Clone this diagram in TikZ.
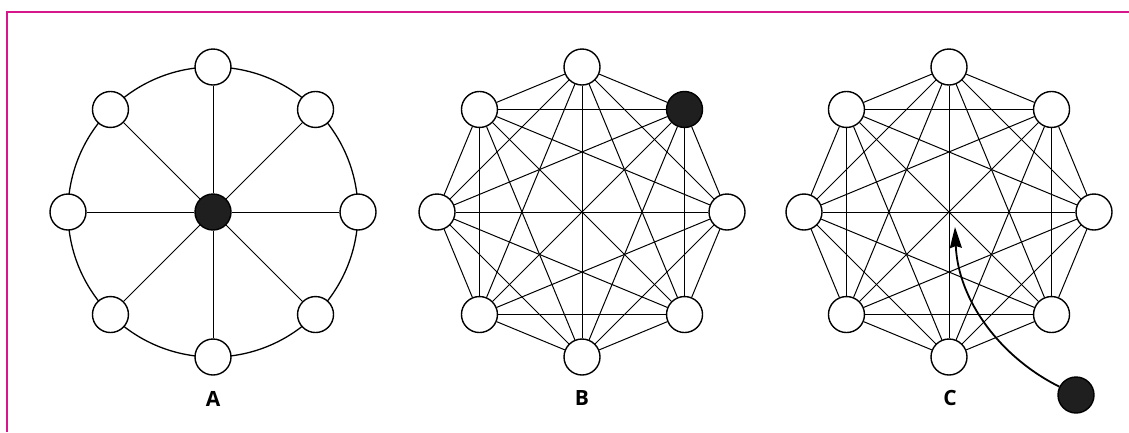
\documentclass[tikz,border=0pt]{standalone}
\usepackage{fontspec}
\setsansfont{Open Sans}
\usetikzlibrary{arrows.meta}
\definecolor{framepink}{RGB}{214,22,138}
\tikzset{
  vert/.style={circle, draw, fill=white, minimum size=36pt, inner sep=0pt, line width=1.4pt},
  hub/.style={vert, fill=black!88},
  lbl/.style={font=\sffamily\bfseries\fontsize{21}{25}\selectfont}
}

\begin{document}
\begin{tikzpicture}[x=1pt, y=-1pt, line width=1pt]
    \useasboundingbox (0,0) rectangle (1129,432);
    \draw[framepink, line width=2pt] (7,432) -- (7,12) -- (1129,12);
    % A: wheel
    \begin{scope}[shift={(213,212)}]
        \draw[line width=1.3pt] (0,0) circle [radius=145];
        \node[hub] (a0) at (0,0) {};
        \foreach \i in {1,...,8}
            \node[vert] (a\i) at (\i*45-135:145) {};
        \foreach \i in {1,...,8}
            \draw (a0) -- (a\i);
    \end{scope}
    \node[lbl] (labA) at (213,399) {A};
    % B: complete graph
    \begin{scope}[shift={(582,212)}]
        \foreach \i/\s in {1/vert,2/hub,3/vert,4/vert,5/vert,6/vert,7/vert,8/vert}
            \node[\s] (b\i) at (\i*45-135:145) {};
        \foreach \i in {1,...,7} {
            \pgfmathtruncatemacro\k{\i+1}
            \foreach \j in {\k,...,8}
                \draw (b\i) -- (b\j);
        }
    \end{scope}
    \node[lbl] (labB) at (582,398) {B};
    % C: complete graph + outsider
    \begin{scope}[shift={(949,212)}]
        \foreach \i in {1,...,8}
            \node[vert] (c\i) at (\i*45-135:145) {};
        \foreach \i in {1,...,7} {
            \pgfmathtruncatemacro\k{\i+1}
            \foreach \j in {\k,...,8}
                \draw (c\i) -- (c\j);
        }
    \end{scope}
    \node[lbl] (labC) at (950,398) {C};
    \node[hub] (cx) at (1076,395) {};
    \coordinate (ctip) at (955,227);
    \draw[line width=1.8pt, -{Stealth[length=21pt, width=12pt, inset=2pt]}]
        (cx) .. controls (1000,357) and (958,300) .. (ctip);
\end{tikzpicture}
\end{document}
